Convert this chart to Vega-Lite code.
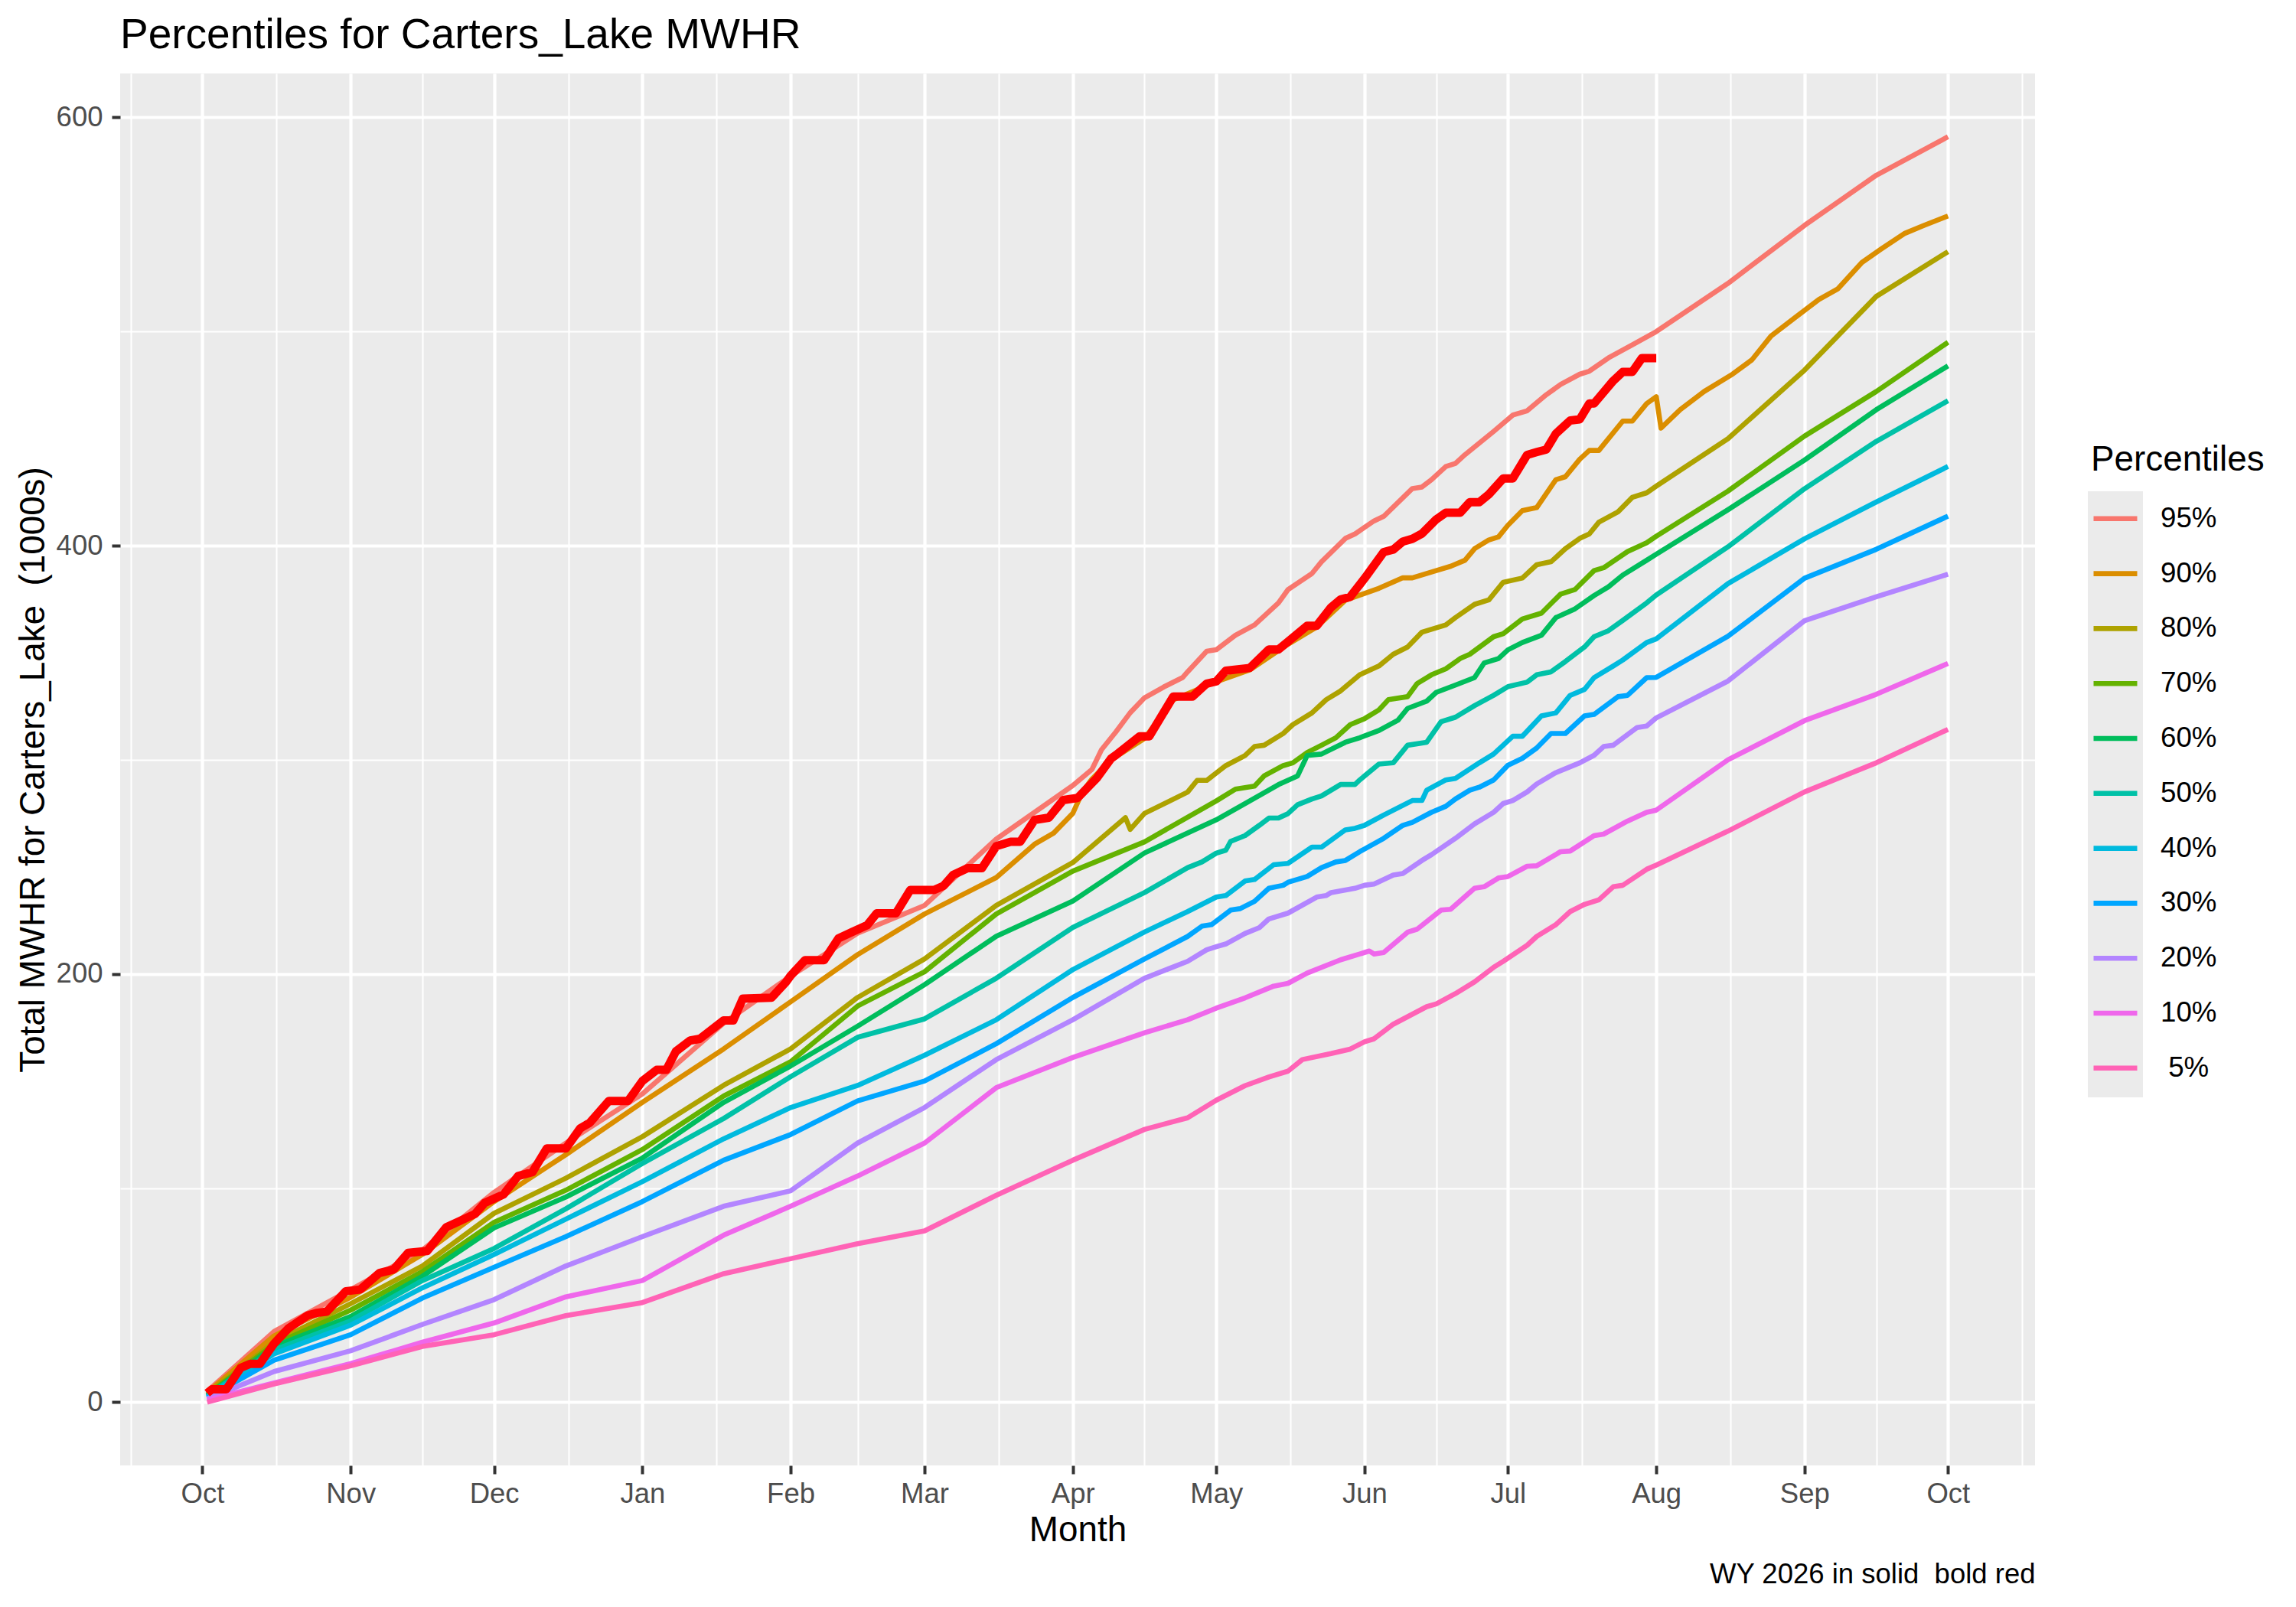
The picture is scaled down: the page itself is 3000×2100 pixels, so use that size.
{
 "$schema": "https://vega.github.io/schema/vega-lite/v6.json",
 "autosize": {"type": "none"},
 "width": 2502,
 "height": 1819,
 "padding": {"left": 157, "top": 96, "right": 341, "bottom": 185},
 "background": "white",
 "title": {"text": "Percentiles for Carters_Lake MWHR", "anchor": "start", "frame": "group", "fontSize": 55, "fontWeight": "normal", "color": "black", "offset": 21},
 "datasets": {
  "pct": [
   {"p":"95%","d":"2025-10-02","v":5},{"p":"95%","d":"2025-10-16","v":33},{"p":"95%","d":"2025-11-01","v":52.5},{"p":"95%","d":"2025-11-16","v":71},{"p":"95%","d":"2025-12-01","v":98},{"p":"95%","d":"2025-12-16","v":121},{"p":"95%","d":"2026-01-01","v":144},{"p":"95%","d":"2026-01-18","v":177},{"p":"95%","d":"2026-02-01","v":199},{"p":"95%","d":"2026-02-15","v":219},{"p":"95%","d":"2026-03-01","v":232},{"p":"95%","d":"2026-03-16","v":263},{"p":"95%","d":"2026-04-01","v":288},{"p":"95%","d":"2026-04-05","v":295.5},{"p":"95%","d":"2026-04-07","v":304.7},{"p":"95%","d":"2026-04-10","v":313},{"p":"95%","d":"2026-04-13","v":322},{"p":"95%","d":"2026-04-16","v":329},{"p":"95%","d":"2026-04-20","v":334},{"p":"95%","d":"2026-04-24","v":338.5},{"p":"95%","d":"2026-04-25","v":341.1},{"p":"95%","d":"2026-04-29","v":350.7},{"p":"95%","d":"2026-05-01","v":351.4},{"p":"95%","d":"2026-05-05","v":358.2},{"p":"95%","d":"2026-05-09","v":363},{"p":"95%","d":"2026-05-14","v":373.3},{"p":"95%","d":"2026-05-16","v":379.5},{"p":"95%","d":"2026-05-21","v":387},{"p":"95%","d":"2026-05-23","v":392.5},{"p":"95%","d":"2026-05-28","v":403.4},{"p":"95%","d":"2026-05-30","v":405.5},{"p":"95%","d":"2026-06-03","v":411.6},{"p":"95%","d":"2026-06-05","v":413.7},{"p":"95%","d":"2026-06-11","v":426.7},{"p":"95%","d":"2026-06-13","v":427.4},{"p":"95%","d":"2026-06-15","v":430.8},{"p":"95%","d":"2026-06-18","v":437},{"p":"95%","d":"2026-06-20","v":438.4},{"p":"95%","d":"2026-06-22","v":442.5},{"p":"95%","d":"2026-06-28","v":453.4},{"p":"95%","d":"2026-07-02","v":461},{"p":"95%","d":"2026-07-05","v":463},{"p":"95%","d":"2026-07-09","v":470.5},{"p":"95%","d":"2026-07-12","v":475.3},{"p":"95%","d":"2026-07-16","v":480.1},{"p":"95%","d":"2026-07-18","v":481.5},{"p":"95%","d":"2026-07-22","v":487.7},{"p":"95%","d":"2026-07-27","v":493.8},{"p":"95%","d":"2026-08-01","v":500},{"p":"95%","d":"2026-08-16","v":522.5},{"p":"95%","d":"2026-09-01","v":549.6},{"p":"95%","d":"2026-09-16","v":573},{"p":"95%","d":"2026-10-01","v":591},
   {"p":"90%","d":"2025-10-02","v":4.5},{"p":"90%","d":"2025-10-16","v":31},{"p":"90%","d":"2025-11-01","v":49},{"p":"90%","d":"2025-11-16","v":69},{"p":"90%","d":"2025-12-01","v":93.7},{"p":"90%","d":"2025-12-16","v":115.6},{"p":"90%","d":"2026-01-01","v":140},{"p":"90%","d":"2026-01-18","v":165},{"p":"90%","d":"2026-02-01","v":187},{"p":"90%","d":"2026-02-15","v":209},{"p":"90%","d":"2026-03-01","v":228},{"p":"90%","d":"2026-03-16","v":245},{"p":"90%","d":"2026-03-24","v":260.6},{"p":"90%","d":"2026-03-28","v":265.8},{"p":"90%","d":"2026-04-01","v":275},{"p":"90%","d":"2026-04-03","v":285},{"p":"90%","d":"2026-04-05","v":291},{"p":"90%","d":"2026-04-09","v":300},{"p":"90%","d":"2026-04-16","v":310},{"p":"90%","d":"2026-04-22","v":328},{"p":"90%","d":"2026-05-01","v":336.5},{"p":"90%","d":"2026-05-08","v":342},{"p":"90%","d":"2026-05-16","v":354},{"p":"90%","d":"2026-05-22","v":362},{"p":"90%","d":"2026-05-28","v":374.5},{"p":"90%","d":"2026-06-04","v":380.1},{"p":"90%","d":"2026-06-09","v":385},{"p":"90%","d":"2026-06-11","v":385},{"p":"90%","d":"2026-06-16","v":388.4},{"p":"90%","d":"2026-06-19","v":390.4},{"p":"90%","d":"2026-06-22","v":393.2},{"p":"90%","d":"2026-06-24","v":398.6},{"p":"90%","d":"2026-06-27","v":402.7},{"p":"90%","d":"2026-06-29","v":404.1},{"p":"90%","d":"2026-07-01","v":409.6},{"p":"90%","d":"2026-07-04","v":416.4},{"p":"90%","d":"2026-07-07","v":417.8},{"p":"90%","d":"2026-07-11","v":430.8},{"p":"90%","d":"2026-07-13","v":432.2},{"p":"90%","d":"2026-07-16","v":440.4},{"p":"90%","d":"2026-07-18","v":444.5},{"p":"90%","d":"2026-07-20","v":444.5},{"p":"90%","d":"2026-07-25","v":458.2},{"p":"90%","d":"2026-07-27","v":458.2},{"p":"90%","d":"2026-07-30","v":466.4},{"p":"90%","d":"2026-08-01","v":469.6},{"p":"90%","d":"2026-08-02","v":454.9},{"p":"90%","d":"2026-08-06","v":463.5},{"p":"90%","d":"2026-08-11","v":472},{"p":"90%","d":"2026-08-17","v":480.2},{"p":"90%","d":"2026-08-21","v":486.8},{"p":"90%","d":"2026-08-25","v":497.9},{"p":"90%","d":"2026-08-30","v":506.5},{"p":"90%","d":"2026-09-04","v":515},{"p":"90%","d":"2026-09-08","v":520},{"p":"90%","d":"2026-09-13","v":532.3},{"p":"90%","d":"2026-09-17","v":538.5},{"p":"90%","d":"2026-09-22","v":545.9},{"p":"90%","d":"2026-09-26","v":549.6},{"p":"90%","d":"2026-10-01","v":554},
   {"p":"80%","d":"2025-10-02","v":4},{"p":"80%","d":"2025-10-16","v":28},{"p":"80%","d":"2025-11-01","v":46},{"p":"80%","d":"2025-11-16","v":63.6},{"p":"80%","d":"2025-12-01","v":88.2},{"p":"80%","d":"2025-12-16","v":104.6},{"p":"80%","d":"2026-01-01","v":124},{"p":"80%","d":"2026-01-18","v":148},{"p":"80%","d":"2026-02-01","v":165},{"p":"80%","d":"2026-02-15","v":189},{"p":"80%","d":"2026-03-01","v":207},{"p":"80%","d":"2026-03-16","v":232},{"p":"80%","d":"2026-04-01","v":252},{"p":"80%","d":"2026-04-12","v":273},{"p":"80%","d":"2026-04-13","v":267.5},{"p":"80%","d":"2026-04-16","v":275},{"p":"80%","d":"2026-04-25","v":284.9},{"p":"80%","d":"2026-04-27","v":290.4},{"p":"80%","d":"2026-04-29","v":290.4},{"p":"80%","d":"2026-05-03","v":297.3},{"p":"80%","d":"2026-05-07","v":302},{"p":"80%","d":"2026-05-09","v":306.2},{"p":"80%","d":"2026-05-11","v":306.8},{"p":"80%","d":"2026-05-15","v":312.3},{"p":"80%","d":"2026-05-17","v":316.4},{"p":"80%","d":"2026-05-21","v":321.9},{"p":"80%","d":"2026-05-24","v":328.1},{"p":"80%","d":"2026-05-27","v":332.2},{"p":"80%","d":"2026-05-31","v":339.7},{"p":"80%","d":"2026-06-04","v":343.8},{"p":"80%","d":"2026-06-07","v":349.3},{"p":"80%","d":"2026-06-10","v":352.7},{"p":"80%","d":"2026-06-13","v":359.6},{"p":"80%","d":"2026-06-18","v":363},{"p":"80%","d":"2026-06-20","v":366.4},{"p":"80%","d":"2026-06-24","v":372.6},{"p":"80%","d":"2026-06-27","v":374.7},{"p":"80%","d":"2026-06-30","v":382.9},{"p":"80%","d":"2026-07-04","v":384.9},{"p":"80%","d":"2026-07-07","v":391.1},{"p":"80%","d":"2026-07-10","v":392.5},{"p":"80%","d":"2026-07-13","v":398.6},{"p":"80%","d":"2026-07-16","v":403.4},{"p":"80%","d":"2026-07-18","v":405.5},{"p":"80%","d":"2026-07-20","v":411},{"p":"80%","d":"2026-07-24","v":415.8},{"p":"80%","d":"2026-07-27","v":422.6},{"p":"80%","d":"2026-07-30","v":424.7},{"p":"80%","d":"2026-08-01","v":427.8},{"p":"80%","d":"2026-08-16","v":450},{"p":"80%","d":"2026-09-01","v":482},{"p":"80%","d":"2026-09-16","v":516.4},{"p":"80%","d":"2026-10-01","v":537.3},
   {"p":"70%","d":"2025-10-02","v":3.5},{"p":"70%","d":"2025-10-16","v":27},{"p":"70%","d":"2025-11-01","v":43},{"p":"70%","d":"2025-11-16","v":61},{"p":"70%","d":"2025-12-01","v":84},{"p":"70%","d":"2025-12-16","v":99},{"p":"70%","d":"2026-01-01","v":118},{"p":"70%","d":"2026-01-18","v":143},{"p":"70%","d":"2026-02-01","v":159},{"p":"70%","d":"2026-02-15","v":185},{"p":"70%","d":"2026-03-01","v":201},{"p":"70%","d":"2026-03-16","v":228},{"p":"70%","d":"2026-04-01","v":248},{"p":"70%","d":"2026-04-16","v":261.7},{"p":"70%","d":"2026-05-01","v":280.8},{"p":"70%","d":"2026-05-05","v":286.3},{"p":"70%","d":"2026-05-09","v":287.7},{"p":"70%","d":"2026-05-11","v":292.5},{"p":"70%","d":"2026-05-15","v":297.3},{"p":"70%","d":"2026-05-17","v":298.6},{"p":"70%","d":"2026-05-20","v":303.4},{"p":"70%","d":"2026-05-23","v":306.8},{"p":"70%","d":"2026-05-26","v":310.3},{"p":"70%","d":"2026-05-29","v":316.4},{"p":"70%","d":"2026-06-01","v":319.2},{"p":"70%","d":"2026-06-04","v":323.3},{"p":"70%","d":"2026-06-06","v":328.1},{"p":"70%","d":"2026-06-10","v":329.5},{"p":"70%","d":"2026-06-12","v":335.6},{"p":"70%","d":"2026-06-15","v":339.7},{"p":"70%","d":"2026-06-18","v":342.5},{"p":"70%","d":"2026-06-21","v":347.3},{"p":"70%","d":"2026-06-23","v":349.3},{"p":"70%","d":"2026-06-28","v":357.5},{"p":"70%","d":"2026-06-30","v":358.9},{"p":"70%","d":"2026-07-04","v":365.8},{"p":"70%","d":"2026-07-08","v":368.5},{"p":"70%","d":"2026-07-12","v":377.4},{"p":"70%","d":"2026-07-15","v":379.5},{"p":"70%","d":"2026-07-19","v":388.4},{"p":"70%","d":"2026-07-21","v":389.7},{"p":"70%","d":"2026-07-26","v":397.3},{"p":"70%","d":"2026-07-30","v":401.4},{"p":"70%","d":"2026-08-01","v":404.4},{"p":"70%","d":"2026-08-16","v":425.5},{"p":"70%","d":"2026-09-01","v":451.2},{"p":"70%","d":"2026-09-16","v":472},{"p":"70%","d":"2026-10-01","v":495},
   {"p":"60%","d":"2025-10-02","v":3},{"p":"60%","d":"2025-10-16","v":26},{"p":"60%","d":"2025-11-01","v":40},{"p":"60%","d":"2025-11-16","v":58.8},{"p":"60%","d":"2025-12-01","v":81.4},{"p":"60%","d":"2025-12-16","v":95.8},{"p":"60%","d":"2026-01-01","v":114},{"p":"60%","d":"2026-01-18","v":140},{"p":"60%","d":"2026-02-01","v":157},{"p":"60%","d":"2026-02-15","v":175.6},{"p":"60%","d":"2026-03-01","v":195},{"p":"60%","d":"2026-03-16","v":217.6},{"p":"60%","d":"2026-04-01","v":234},{"p":"60%","d":"2026-04-16","v":256.5},{"p":"60%","d":"2026-05-01","v":272},{"p":"60%","d":"2026-05-08","v":280.8},{"p":"60%","d":"2026-05-14","v":288.4},{"p":"60%","d":"2026-05-18","v":292.5},{"p":"60%","d":"2026-05-20","v":302},{"p":"60%","d":"2026-05-23","v":302.7},{"p":"60%","d":"2026-05-28","v":308.2},{"p":"60%","d":"2026-05-31","v":310.3},{"p":"60%","d":"2026-06-04","v":313.7},{"p":"60%","d":"2026-06-08","v":318.5},{"p":"60%","d":"2026-06-10","v":324},{"p":"60%","d":"2026-06-14","v":327.4},{"p":"60%","d":"2026-06-16","v":331.5},{"p":"60%","d":"2026-06-20","v":334.9},{"p":"60%","d":"2026-06-24","v":338.4},{"p":"60%","d":"2026-06-26","v":345.2},{"p":"60%","d":"2026-06-29","v":347.3},{"p":"60%","d":"2026-07-01","v":351.4},{"p":"60%","d":"2026-07-04","v":354.8},{"p":"60%","d":"2026-07-08","v":358.2},{"p":"60%","d":"2026-07-11","v":366.4},{"p":"60%","d":"2026-07-15","v":370.5},{"p":"60%","d":"2026-07-19","v":376.7},{"p":"60%","d":"2026-07-22","v":380.8},{"p":"60%","d":"2026-07-25","v":386.3},{"p":"60%","d":"2026-07-30","v":393.2},{"p":"60%","d":"2026-08-01","v":396},{"p":"60%","d":"2026-08-16","v":416.8},{"p":"60%","d":"2026-09-01","v":440},{"p":"60%","d":"2026-09-16","v":463.5},{"p":"60%","d":"2026-10-01","v":484},
   {"p":"50%","d":"2025-10-02","v":3},{"p":"50%","d":"2025-10-16","v":24.4},{"p":"50%","d":"2025-11-01","v":38},{"p":"50%","d":"2025-11-16","v":56.8},{"p":"50%","d":"2025-12-01","v":71.8},{"p":"50%","d":"2025-12-16","v":90.3},{"p":"50%","d":"2026-01-01","v":111.5},{"p":"50%","d":"2026-01-18","v":132.5},{"p":"50%","d":"2026-02-01","v":152},{"p":"50%","d":"2026-02-15","v":170.4},{"p":"50%","d":"2026-03-01","v":179},{"p":"50%","d":"2026-03-16","v":198},{"p":"50%","d":"2026-04-01","v":221.7},{"p":"50%","d":"2026-04-16","v":238},{"p":"50%","d":"2026-04-25","v":249.6},{"p":"50%","d":"2026-04-28","v":252.3},{"p":"50%","d":"2026-05-01","v":256.4},{"p":"50%","d":"2026-05-03","v":257.8},{"p":"50%","d":"2026-05-04","v":261.9},{"p":"50%","d":"2026-05-07","v":264.6},{"p":"50%","d":"2026-05-10","v":269.4},{"p":"50%","d":"2026-05-12","v":272.8},{"p":"50%","d":"2026-05-14","v":272.8},{"p":"50%","d":"2026-05-16","v":274.9},{"p":"50%","d":"2026-05-18","v":279},{"p":"50%","d":"2026-05-21","v":281.7},{"p":"50%","d":"2026-05-23","v":283.1},{"p":"50%","d":"2026-05-27","v":288.5},{"p":"50%","d":"2026-05-30","v":288.5},{"p":"50%","d":"2026-05-31","v":290.6},{"p":"50%","d":"2026-06-04","v":298},{"p":"50%","d":"2026-06-07","v":298.6},{"p":"50%","d":"2026-06-10","v":306.8},{"p":"50%","d":"2026-06-14","v":308.2},{"p":"50%","d":"2026-06-17","v":317.8},{"p":"50%","d":"2026-06-20","v":319.9},{"p":"50%","d":"2026-06-24","v":325.3},{"p":"50%","d":"2026-06-28","v":330.1},{"p":"50%","d":"2026-07-01","v":334.2},{"p":"50%","d":"2026-07-05","v":336.3},{"p":"50%","d":"2026-07-07","v":339.7},{"p":"50%","d":"2026-07-10","v":341.1},{"p":"50%","d":"2026-07-13","v":345.9},{"p":"50%","d":"2026-07-15","v":349.3},{"p":"50%","d":"2026-07-17","v":352.7},{"p":"50%","d":"2026-07-19","v":357.5},{"p":"50%","d":"2026-07-22","v":360.3},{"p":"50%","d":"2026-07-25","v":365.1},{"p":"50%","d":"2026-07-30","v":373.3},{"p":"50%","d":"2026-08-01","v":377},{"p":"50%","d":"2026-08-16","v":399.5},{"p":"50%","d":"2026-09-01","v":426.6},{"p":"50%","d":"2026-09-16","v":448.7},{"p":"50%","d":"2026-10-01","v":467.7},
   {"p":"40%","d":"2025-10-02","v":2.5},{"p":"40%","d":"2025-10-16","v":22.6},{"p":"40%","d":"2025-11-01","v":36},{"p":"40%","d":"2025-11-16","v":53.4},{"p":"40%","d":"2025-12-01","v":69},{"p":"40%","d":"2025-12-16","v":85.5},{"p":"40%","d":"2026-01-01","v":103},{"p":"40%","d":"2026-01-18","v":123},{"p":"40%","d":"2026-02-01","v":137.6},{"p":"40%","d":"2026-02-15","v":147.9},{"p":"40%","d":"2026-03-01","v":162},{"p":"40%","d":"2026-03-16","v":178.6},{"p":"40%","d":"2026-04-01","v":202},{"p":"40%","d":"2026-04-16","v":219.6},{"p":"40%","d":"2026-04-25","v":229.1},{"p":"40%","d":"2026-05-01","v":235.9},{"p":"40%","d":"2026-05-03","v":236.6},{"p":"40%","d":"2026-05-07","v":243.4},{"p":"40%","d":"2026-05-09","v":244.1},{"p":"40%","d":"2026-05-13","v":251},{"p":"40%","d":"2026-05-16","v":251.6},{"p":"40%","d":"2026-05-21","v":259.2},{"p":"40%","d":"2026-05-23","v":259.2},{"p":"40%","d":"2026-05-28","v":267.3},{"p":"40%","d":"2026-05-30","v":268},{"p":"40%","d":"2026-06-01","v":269.4},{"p":"40%","d":"2026-06-05","v":274.2},{"p":"40%","d":"2026-06-11","v":281},{"p":"40%","d":"2026-06-13","v":281},{"p":"40%","d":"2026-06-14","v":285.8},{"p":"40%","d":"2026-06-18","v":290.6},{"p":"40%","d":"2026-06-20","v":291.3},{"p":"40%","d":"2026-06-25","v":298.6},{"p":"40%","d":"2026-06-28","v":302.7},{"p":"40%","d":"2026-07-02","v":311},{"p":"40%","d":"2026-07-04","v":311},{"p":"40%","d":"2026-07-08","v":320.5},{"p":"40%","d":"2026-07-11","v":321.9},{"p":"40%","d":"2026-07-14","v":330.1},{"p":"40%","d":"2026-07-17","v":332.9},{"p":"40%","d":"2026-07-19","v":338.4},{"p":"40%","d":"2026-07-23","v":343.8},{"p":"40%","d":"2026-07-25","v":346.6},{"p":"40%","d":"2026-07-30","v":354.8},{"p":"40%","d":"2026-08-01","v":356.5},{"p":"40%","d":"2026-08-16","v":382.3},{"p":"40%","d":"2026-09-01","v":403.2},{"p":"40%","d":"2026-09-16","v":420.4},{"p":"40%","d":"2026-10-01","v":437},
   {"p":"30%","d":"2025-10-02","v":2},{"p":"30%","d":"2025-10-16","v":19.6},{"p":"30%","d":"2025-11-01","v":31.5},{"p":"30%","d":"2025-11-16","v":48.6},{"p":"30%","d":"2025-12-01","v":63},{"p":"30%","d":"2025-12-16","v":77.3},{"p":"30%","d":"2026-01-01","v":93.7},{"p":"30%","d":"2026-01-18","v":113},{"p":"30%","d":"2026-02-01","v":125},{"p":"30%","d":"2026-02-15","v":140.7},{"p":"30%","d":"2026-03-01","v":150},{"p":"30%","d":"2026-03-16","v":167.4},{"p":"30%","d":"2026-04-01","v":189},{"p":"30%","d":"2026-04-16","v":207},{"p":"30%","d":"2026-04-25","v":217.5},{"p":"30%","d":"2026-04-28","v":222.3},{"p":"30%","d":"2026-04-30","v":223},{"p":"30%","d":"2026-05-04","v":229.8},{"p":"30%","d":"2026-05-06","v":230.5},{"p":"30%","d":"2026-05-09","v":233.9},{"p":"30%","d":"2026-05-12","v":240},{"p":"30%","d":"2026-05-15","v":241.4},{"p":"30%","d":"2026-05-16","v":242.8},{"p":"30%","d":"2026-05-20","v":245.5},{"p":"30%","d":"2026-05-23","v":249.6},{"p":"30%","d":"2026-05-26","v":252.3},{"p":"30%","d":"2026-05-28","v":253},{"p":"30%","d":"2026-05-31","v":257.1},{"p":"30%","d":"2026-06-05","v":263.3},{"p":"30%","d":"2026-06-09","v":269.4},{"p":"30%","d":"2026-06-11","v":270.8},{"p":"30%","d":"2026-06-15","v":275.5},{"p":"30%","d":"2026-06-18","v":278.3},{"p":"30%","d":"2026-06-20","v":281.7},{"p":"30%","d":"2026-06-23","v":285.8},{"p":"30%","d":"2026-06-25","v":287.2},{"p":"30%","d":"2026-06-28","v":290.6},{"p":"30%","d":"2026-07-01","v":297.5},{"p":"30%","d":"2026-07-04","v":300.7},{"p":"30%","d":"2026-07-07","v":305.5},{"p":"30%","d":"2026-07-10","v":312.3},{"p":"30%","d":"2026-07-13","v":312.3},{"p":"30%","d":"2026-07-17","v":320.5},{"p":"30%","d":"2026-07-19","v":321.2},{"p":"30%","d":"2026-07-24","v":329.5},{"p":"30%","d":"2026-07-26","v":330.1},{"p":"30%","d":"2026-07-30","v":338.4},{"p":"30%","d":"2026-08-01","v":338.5},{"p":"30%","d":"2026-08-16","v":357.7},{"p":"30%","d":"2026-09-01","v":384.8},{"p":"30%","d":"2026-09-16","v":398.3},{"p":"30%","d":"2026-10-01","v":413.8},
   {"p":"20%","d":"2025-10-02","v":1.5},{"p":"20%","d":"2025-10-16","v":14.3},{"p":"20%","d":"2025-11-01","v":24},{"p":"20%","d":"2025-11-16","v":36.3},{"p":"20%","d":"2025-12-01","v":47.9},{"p":"20%","d":"2025-12-16","v":63.6},{"p":"20%","d":"2026-01-01","v":77.3},{"p":"20%","d":"2026-01-18","v":91.5},{"p":"20%","d":"2026-02-01","v":98.7},{"p":"20%","d":"2026-02-15","v":121},{"p":"20%","d":"2026-03-01","v":137.6},{"p":"20%","d":"2026-03-16","v":160},{"p":"20%","d":"2026-04-01","v":178.6},{"p":"20%","d":"2026-04-16","v":198},{"p":"20%","d":"2026-04-25","v":205.9},{"p":"20%","d":"2026-04-29","v":211.3},{"p":"20%","d":"2026-05-01","v":212.7},{"p":"20%","d":"2026-05-03","v":214},{"p":"20%","d":"2026-05-07","v":218.9},{"p":"20%","d":"2026-05-10","v":221.6},{"p":"20%","d":"2026-05-12","v":225.7},{"p":"20%","d":"2026-05-16","v":228.4},{"p":"20%","d":"2026-05-22","v":235.9},{"p":"20%","d":"2026-05-24","v":236.6},{"p":"20%","d":"2026-05-25","v":238},{"p":"20%","d":"2026-05-30","v":240},{"p":"20%","d":"2026-06-01","v":241.4},{"p":"20%","d":"2026-06-03","v":242},{"p":"20%","d":"2026-06-07","v":246.2},{"p":"20%","d":"2026-06-09","v":246.9},{"p":"20%","d":"2026-06-13","v":253},{"p":"20%","d":"2026-06-15","v":255.7},{"p":"20%","d":"2026-06-20","v":263.3},{"p":"20%","d":"2026-06-24","v":270.1},{"p":"20%","d":"2026-06-28","v":275.5},{"p":"20%","d":"2026-06-30","v":279.6},{"p":"20%","d":"2026-07-02","v":281},{"p":"20%","d":"2026-07-05","v":285},{"p":"20%","d":"2026-07-07","v":288.7},{"p":"20%","d":"2026-07-11","v":294},{"p":"20%","d":"2026-07-16","v":298.6},{"p":"20%","d":"2026-07-19","v":302.1},{"p":"20%","d":"2026-07-21","v":306.2},{"p":"20%","d":"2026-07-23","v":306.8},{"p":"20%","d":"2026-07-28","v":315.1},{"p":"20%","d":"2026-07-30","v":315.8},{"p":"20%","d":"2026-08-01","v":319.6},{"p":"20%","d":"2026-08-16","v":336.8},{"p":"20%","d":"2026-09-01","v":365},{"p":"20%","d":"2026-09-16","v":376.1},{"p":"20%","d":"2026-10-01","v":386.7},
   {"p":"10%","d":"2025-10-02","v":1},{"p":"10%","d":"2025-10-16","v":9},{"p":"10%","d":"2025-11-01","v":18},{"p":"10%","d":"2025-11-16","v":28},{"p":"10%","d":"2025-12-01","v":37},{"p":"10%","d":"2025-12-16","v":49.2},{"p":"10%","d":"2026-01-01","v":56.8},{"p":"10%","d":"2026-01-18","v":78},{"p":"10%","d":"2026-02-01","v":91.5},{"p":"10%","d":"2026-02-15","v":105.6},{"p":"10%","d":"2026-03-01","v":121},{"p":"10%","d":"2026-03-16","v":146.9},{"p":"10%","d":"2026-04-01","v":161},{"p":"10%","d":"2026-04-16","v":172.5},{"p":"10%","d":"2026-04-25","v":178.6},{"p":"10%","d":"2026-05-01","v":184},{"p":"10%","d":"2026-05-07","v":188.8},{"p":"10%","d":"2026-05-13","v":194.3},{"p":"10%","d":"2026-05-16","v":195.6},{"p":"10%","d":"2026-05-20","v":200.4},{"p":"10%","d":"2026-05-27","v":206.6},{"p":"10%","d":"2026-06-02","v":210.7},{"p":"10%","d":"2026-06-03","v":209.3},{"p":"10%","d":"2026-06-05","v":210},{"p":"10%","d":"2026-06-10","v":219.5},{"p":"10%","d":"2026-06-12","v":220.9},{"p":"10%","d":"2026-06-17","v":229.8},{"p":"10%","d":"2026-06-19","v":230.2},{"p":"10%","d":"2026-06-24","v":240},{"p":"10%","d":"2026-06-26","v":240.7},{"p":"10%","d":"2026-06-29","v":244.8},{"p":"10%","d":"2026-07-01","v":245.5},{"p":"10%","d":"2026-07-05","v":250.3},{"p":"10%","d":"2026-07-07","v":250.5},{"p":"10%","d":"2026-07-12","v":257.1},{"p":"10%","d":"2026-07-14","v":257.4},{"p":"10%","d":"2026-07-19","v":264.6},{"p":"10%","d":"2026-07-21","v":265.3},{"p":"10%","d":"2026-07-26","v":271.4},{"p":"10%","d":"2026-07-30","v":275.5},{"p":"10%","d":"2026-08-01","v":276.5},{"p":"10%","d":"2026-08-16","v":300},{"p":"10%","d":"2026-09-01","v":318.3},{"p":"10%","d":"2026-09-16","v":330.6},{"p":"10%","d":"2026-10-01","v":345},
   {"p":" 5%","d":"2025-10-02","v":0},{"p":" 5%","d":"2025-10-16","v":8.5},{"p":" 5%","d":"2025-11-01","v":17},{"p":" 5%","d":"2025-11-16","v":26},{"p":" 5%","d":"2025-12-01","v":31.5},{"p":" 5%","d":"2025-12-16","v":40.4},{"p":" 5%","d":"2026-01-01","v":46.5},{"p":" 5%","d":"2026-01-18","v":60},{"p":" 5%","d":"2026-02-01","v":67},{"p":" 5%","d":"2026-02-15","v":74},{"p":" 5%","d":"2026-03-01","v":80},{"p":" 5%","d":"2026-03-16","v":96.6},{"p":" 5%","d":"2026-04-01","v":113},{"p":" 5%","d":"2026-04-16","v":127.4},{"p":" 5%","d":"2026-04-25","v":132.8},{"p":" 5%","d":"2026-05-01","v":141},{"p":" 5%","d":"2026-05-07","v":147.8},{"p":" 5%","d":"2026-05-12","v":151.9},{"p":" 5%","d":"2026-05-16","v":154.6},{"p":" 5%","d":"2026-05-19","v":160},{"p":" 5%","d":"2026-05-25","v":162.8},{"p":" 5%","d":"2026-05-29","v":164.9},{"p":" 5%","d":"2026-06-01","v":168.3},{"p":" 5%","d":"2026-06-03","v":169.7},{"p":" 5%","d":"2026-06-07","v":176.5},{"p":" 5%","d":"2026-06-14","v":184.7},{"p":" 5%","d":"2026-06-16","v":186},{"p":" 5%","d":"2026-06-20","v":190.8},{"p":" 5%","d":"2026-06-24","v":196.3},{"p":" 5%","d":"2026-06-28","v":203.1},{"p":" 5%","d":"2026-06-30","v":205.9},{"p":" 5%","d":"2026-07-05","v":213.4},{"p":" 5%","d":"2026-07-07","v":217.5},{"p":" 5%","d":"2026-07-11","v":223},{"p":" 5%","d":"2026-07-14","v":229.1},{"p":" 5%","d":"2026-07-17","v":232.5},{"p":" 5%","d":"2026-07-20","v":234.6},{"p":" 5%","d":"2026-07-23","v":240.7},{"p":" 5%","d":"2026-07-25","v":241.4},{"p":" 5%","d":"2026-07-30","v":248.9},{"p":" 5%","d":"2026-08-01","v":250.8},{"p":" 5%","d":"2026-08-16","v":266.7},{"p":" 5%","d":"2026-09-01","v":285},{"p":" 5%","d":"2026-09-16","v":298.6},{"p":" 5%","d":"2026-10-01","v":314.2}
  ],
  "wy": [
   {"d":"2025-10-02","v":4.2},{"d":"2025-10-03","v":6},{"d":"2025-10-06","v":6},{"d":"2025-10-09","v":16},{"d":"2025-10-11","v":17.9},{"d":"2025-10-13","v":17.9},{"d":"2025-10-16","v":27.4},{"d":"2025-10-19","v":34.5},{"d":"2025-10-23","v":40.5},{"d":"2025-10-25","v":41.7},{"d":"2025-10-27","v":42.3},{"d":"2025-10-31","v":51.8},{"d":"2025-11-03","v":52.6},{"d":"2025-11-07","v":60.3},{"d":"2025-11-10","v":62},{"d":"2025-11-13","v":69.7},{"d":"2025-11-17","v":70.6},{"d":"2025-11-21","v":81.7},{"d":"2025-11-27","v":87.9},{"d":"2025-11-29","v":93},{"d":"2025-12-03","v":97.1},{"d":"2025-12-06","v":105.6},{"d":"2025-12-09","v":107.4},{"d":"2025-12-12","v":118.5},{"d":"2025-12-16","v":118.5},{"d":"2025-12-19","v":127.9},{"d":"2025-12-21","v":130.5},{"d":"2025-12-25","v":140.7},{"d":"2025-12-29","v":140.7},{"d":"2026-01-01","v":150},{"d":"2026-01-04","v":155.2},{"d":"2026-01-06","v":155.2},{"d":"2026-01-08","v":163.8},{"d":"2026-01-11","v":168.9},{"d":"2026-01-13","v":169.7},{"d":"2026-01-18","v":178.3},{"d":"2026-01-20","v":178.3},{"d":"2026-01-22","v":188.5},{"d":"2026-01-28","v":188.9},{"d":"2026-01-31","v":196.1},{"d":"2026-02-01","v":199.2},{"d":"2026-02-04","v":206.4},{"d":"2026-02-08","v":206.4},{"d":"2026-02-11","v":216.6},{"d":"2026-02-14","v":219.7},{"d":"2026-02-17","v":222.8},{"d":"2026-02-19","v":228.3},{"d":"2026-02-23","v":228.3},{"d":"2026-02-26","v":239.2},{"d":"2026-03-03","v":239.2},{"d":"2026-03-05","v":241.2},{"d":"2026-03-07","v":246.3},{"d":"2026-03-10","v":249.4},{"d":"2026-03-13","v":249.4},{"d":"2026-03-16","v":259.7},{"d":"2026-03-19","v":261.7},{"d":"2026-03-21","v":261.7},{"d":"2026-03-24","v":271.9},{"d":"2026-03-27","v":273},{"d":"2026-03-30","v":281.2},{"d":"2026-04-02","v":282.2},{"d":"2026-04-06","v":291.4},{"d":"2026-04-09","v":300.6},{"d":"2026-04-10","v":302.2},{"d":"2026-04-15","v":311},{"d":"2026-04-17","v":311},{"d":"2026-04-22","v":329.5},{"d":"2026-04-26","v":329.5},{"d":"2026-04-29","v":335.6},{"d":"2026-05-01","v":336.6},{"d":"2026-05-03","v":341.6},{"d":"2026-05-08","v":342.9},{"d":"2026-05-12","v":351.5},{"d":"2026-05-14","v":351.5},{"d":"2026-05-16","v":355.2},{"d":"2026-05-20","v":362.6},{"d":"2026-05-22","v":362.6},{"d":"2026-05-25","v":371.2},{"d":"2026-05-27","v":374.9},{"d":"2026-05-29","v":376.1},{"d":"2026-06-01","v":384.7},{"d":"2026-06-05","v":397},{"d":"2026-06-07","v":398.2},{"d":"2026-06-09","v":401.9},{"d":"2026-06-11","v":403.2},{"d":"2026-06-13","v":405.6},{"d":"2026-06-16","v":412.3},{"d":"2026-06-18","v":415.4},{"d":"2026-06-21","v":415.4},{"d":"2026-06-23","v":420.3},{"d":"2026-06-25","v":420.3},{"d":"2026-06-27","v":424},{"d":"2026-06-30","v":431.4},{"d":"2026-07-02","v":431.4},{"d":"2026-07-05","v":442.4},{"d":"2026-07-07","v":443.7},{"d":"2026-07-09","v":444.9},{"d":"2026-07-11","v":452.3},{"d":"2026-07-14","v":458.5},{"d":"2026-07-16","v":459},{"d":"2026-07-18","v":466.4},{"d":"2026-07-19","v":466.4},{"d":"2026-07-23","v":477},{"d":"2026-07-25","v":481.2},{"d":"2026-07-27","v":481.2},{"d":"2026-07-29","v":487.6},{"d":"2026-08-01","v":487.6}
  ]
 },
 "layer": [
  {
   "data": {"name": "pct"},
   "mark": {"type": "point", "filled": true, "opacity": 0},
   "encoding": {
    "x": {"field": "d", "type": "temporal", "axis": null},
    "y": {"field": "v", "type": "quantitative", "axis": null},
    "fill": {"field": "p", "type": "nominal", "sort": ["95%","90%","80%","70%","60%","50%","40%","30%","20%","10%"," 5%"],
     "scale": {"range": ["#EBEBEB","#EBEBEB","#EBEBEB","#EBEBEB","#EBEBEB","#EBEBEB","#EBEBEB","#EBEBEB","#EBEBEB","#EBEBEB","#EBEBEB"]},
     "legend": {"orient": "none", "legendX": 2571, "legendY": 546, "title": null, "labelFontSize": 36.7, "labelExpr": "''", "symbolType": "square", "symbolSize": 5184, "symbolStrokeWidth": 0, "symbolOpacity": 1, "rowPadding": 0, "padding": 0, "zindex": 1}}
   }
  },
  {
   "data": {"name": "pct"},
   "mark": {"type": "line", "strokeWidth": 6.6, "strokeJoin": "round"},
   "encoding": {
    "x": {"field": "d", "type": "temporal",
     "scale": {"type": "utc", "domain": [{"year": 2025, "month": 9, "date": 13, "hours": 19, "minutes": 12, "utc": true}, {"year": 2026, "month": 10, "date": 19, "hours": 4, "minutes": 48, "utc": true}]},
     "axis": {"orient": "bottom", "values": [{"year":2025,"month":10,"date":1,"utc":true},{"year":2025,"month":11,"date":1,"utc":true},{"year":2025,"month":12,"date":1,"utc":true},{"year":2026,"month":1,"date":1,"utc":true},{"year":2026,"month":2,"date":1,"utc":true},{"year":2026,"month":3,"date":1,"utc":true},{"year":2026,"month":4,"date":1,"utc":true},{"year":2026,"month":5,"date":1,"utc":true},{"year":2026,"month":6,"date":1,"utc":true},{"year":2026,"month":7,"date":1,"utc":true},{"year":2026,"month":8,"date":1,"utc":true},{"year":2026,"month":9,"date":1,"utc":true},{"year":2026,"month":10,"date":1,"utc":true}],
      "labelExpr": "utcFormat(datum.value, '%b')", "grid": true, "gridWidth": 4.2, "labelPadding": 8, "labelFlush": false, "labelOverlap": false, "title": "Month", "titlePadding": 7}},
    "y": {"field": "v", "type": "quantitative",
     "scale": {"domain": [-29.55, 620.55], "nice": false, "zero": false},
     "axis": {"orient": "left", "values": [0, 200, 400, 600], "grid": true, "gridWidth": 4.2, "labelPadding": 12, "title": "Total MWHR for Carters_Lake \u00a0(1000s)", "titlePadding": 6}},
    "color": {"field": "p", "type": "nominal",
     "scale": {"domain": ["95%","90%","80%","70%","60%","50%","40%","30%","20%","10%"," 5%"], "range": ["#F8766D","#DB8E00","#AEA200","#64B200","#00BD5C","#00C1A7","#00BADE","#00A6FF","#B385FF","#EF67EB","#FF63B6"]},
     "legend": {"orient": "none", "legendX": 2575, "legendY": 483, "title": "Percentiles", "titleFontSize": 45.8, "titleFontWeight": "normal", "titleColor": "black", "titlePadding": 21, "titleLimit": 600, "labelFontSize": 36.7, "labelColor": "black", "labelOffset": 27, "labelLimit": 400, "labelExpr": "replace(datum.label, ' ', '\u200b\u00a0')", "symbolType": "stroke", "symbolSize": 3249, "symbolStrokeWidth": 6.6, "rowPadding": 20.8, "padding": 0, "zindex": 2}}
   }
  },
  {
   "data": {"name": "wy"},
   "mark": {"type": "line", "color": "#FF0000", "strokeWidth": 11, "strokeJoin": "round"},
   "encoding": {
    "x": {"field": "d", "type": "temporal",
     "axis": {"orient": "bottom", "values": [{"year":2025,"month":9,"date":16,"utc":true},{"year":2025,"month":10,"date":16,"hours":12,"utc":true},{"year":2025,"month":11,"date":16,"utc":true},{"year":2025,"month":12,"date":16,"hours":12,"utc":true},{"year":2026,"month":1,"date":16,"hours":12,"utc":true},{"year":2026,"month":2,"date":15,"utc":true},{"year":2026,"month":3,"date":16,"hours":12,"utc":true},{"year":2026,"month":4,"date":16,"utc":true},{"year":2026,"month":5,"date":16,"hours":12,"utc":true},{"year":2026,"month":6,"date":16,"utc":true},{"year":2026,"month":7,"date":16,"hours":12,"utc":true},{"year":2026,"month":8,"date":16,"hours":12,"utc":true},{"year":2026,"month":9,"date":16,"utc":true},{"year":2026,"month":10,"date":16,"hours":12,"utc":true}],
      "grid": true, "gridWidth": 2.1, "ticks": false, "labels": false, "domain": false,
      "title": "WY 2026 in solid \u00a0bold red", "titleAnchor": "end", "titleFontSize": 36.5, "titleBaseline": "alphabetic", "titlePadding": 153}},
    "y": {"field": "v", "type": "quantitative",
     "axis": {"orient": "left", "values": [100, 300, 500], "grid": true, "gridWidth": 2.1, "ticks": false, "labels": false, "domain": false, "title": null}}
   }
  }
 ],
 "resolve": {"axis": {"x": "independent", "y": "independent"}},
 "config": {
  "font": "Liberation Sans",
  "view": {"fill": "#EBEBEB", "stroke": null},
  "axis": {"domain": false, "tickColor": "#333333", "tickWidth": 4, "tickSize": 11, "labelColor": "#4D4D4D", "labelFontSize": 36.5, "titleFontSize": 45.8, "titleFontWeight": "normal", "titleColor": "black", "gridColor": "white", "gridOpacity": 1}
 }
}
